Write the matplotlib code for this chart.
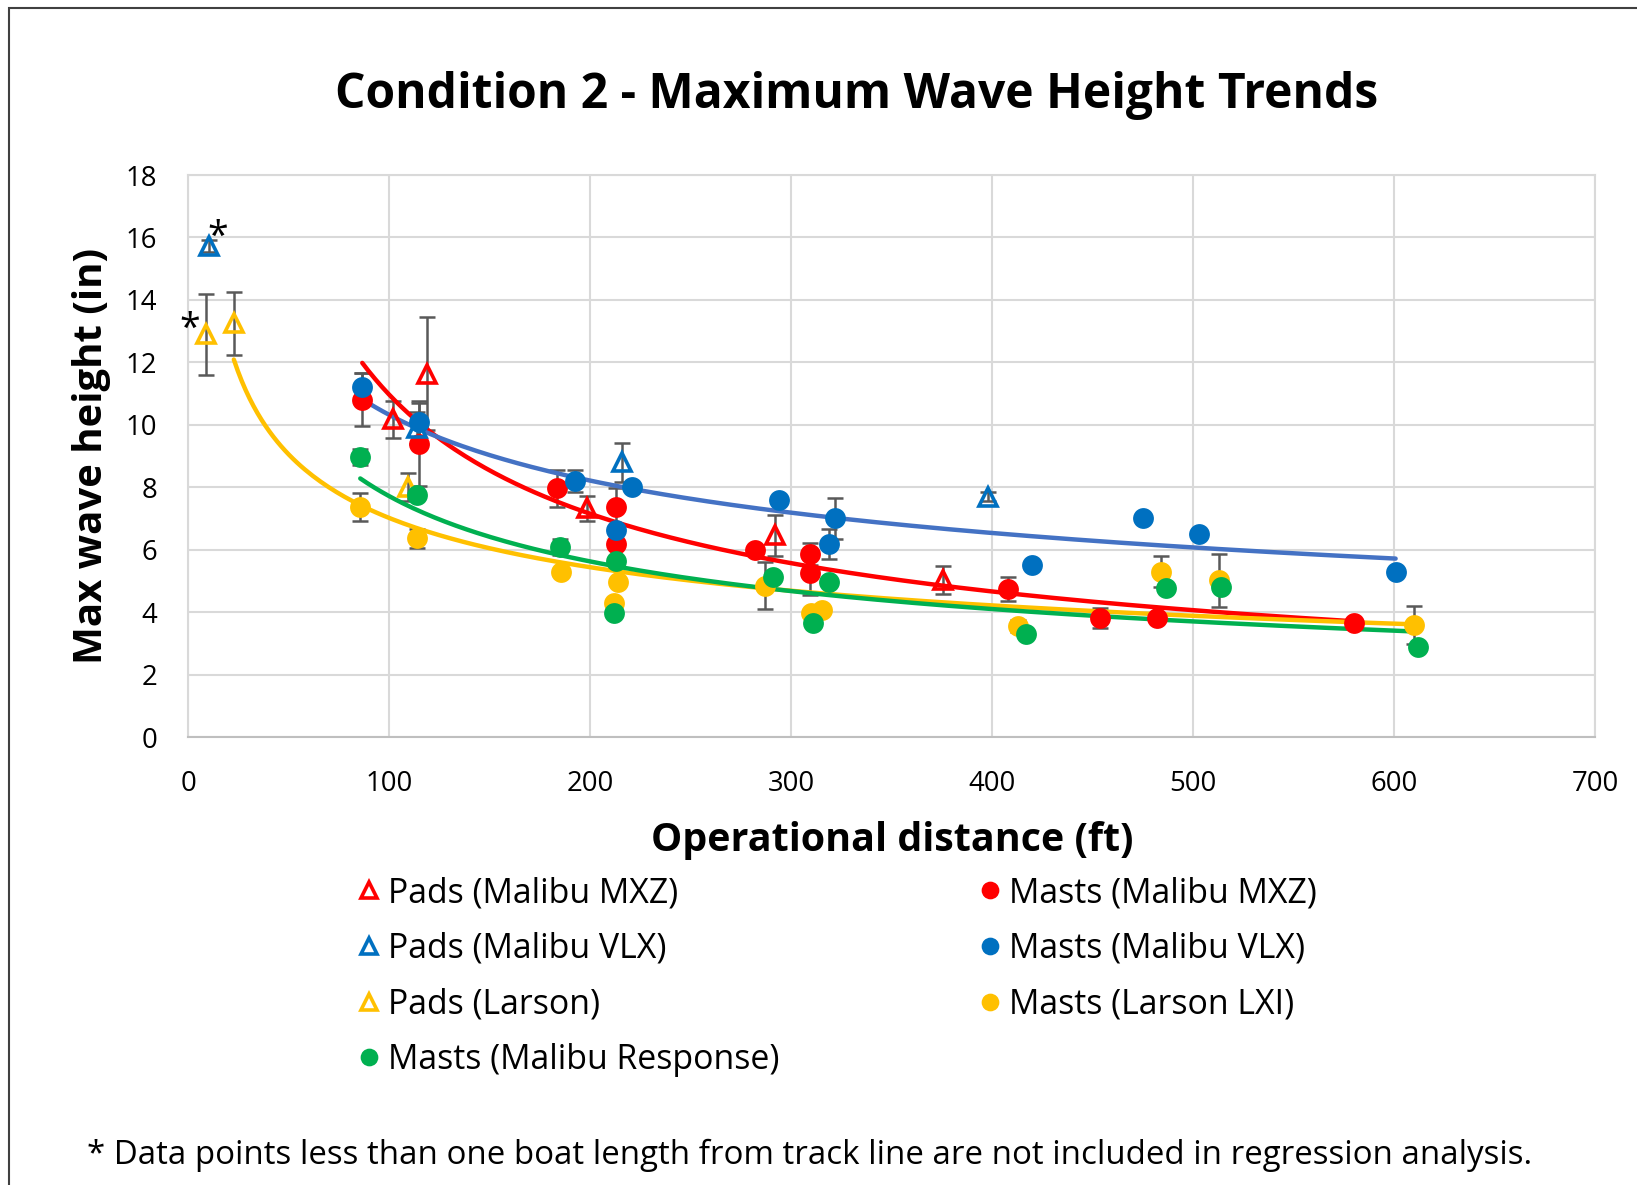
import numpy as np
import matplotlib
matplotlib.use("Agg")
import matplotlib.pyplot as plt
from matplotlib.lines import Line2D
from matplotlib.patches import Rectangle

plt.rcParams['font.family'] = ['Open Sans', 'DejaVu Sans']

# ---------------- data ----------------
pads_mxz_x = [101.8, 118.9, 198.4, 291.8, 375.4]
pads_mxz_y = [10.17, 11.64, 7.33, 6.46, 5.02]
pads_mxz_e = [0.6, 1.8, 0.4, 0.65, 0.45]

masts_mxz_x = [86.7, 114.8, 183.8, 212.9, 212.9, 282.0, 309.5, 309.5, 408.0, 453.8, 481.9, 580.0]
masts_mxz_y = [10.8, 9.4, 7.96, 7.36, 6.19, 5.99, 5.85, 5.25, 4.75, 3.81, 3.81, 3.65]
masts_mxz_e = [0.85, 1.35, 0.6, 0.6, 0.0, 0.0, 0.35, 0.7, 0.38, 0.33, 0.0, 0.0]

pads_vlx_x = [10.4, 114.0, 216.0, 397.8]
pads_vlx_y = [15.72, 9.9, 8.8, 7.7]
pads_vlx_e = [0.2, 0.5, 0.62, 0.15]
pads_vlx_excluded = [True, False, False, False]

masts_vlx_x = [86.7, 114.8, 192.6, 212.9, 220.7, 293.9, 322.0, 318.8, 420.0, 475.0, 503.0, 600.8]
masts_vlx_y = [11.2, 10.1, 8.2, 6.62, 8.0, 7.6, 7.0, 6.19, 5.52, 7.03, 6.49, 5.29]
masts_vlx_e = [0.45, 0.6, 0.35, 0.0, 0.0, 0.0, 0.65, 0.48, 0.0, 0.0, 0.0, 0.0]

pads_larson_x = [8.8, 22.8, 109.6]
pads_larson_y = [12.9, 13.25, 8.0]
pads_larson_e = [1.3, 1.0, 0.45]
pads_larson_excluded = [True, False, False]

masts_larson_x = [85.7, 113.7, 185.4, 213.9, 211.9, 287.0, 310.0, 315.2, 413.0, 484.0, 513.0, 610.0]
masts_larson_y = [7.36, 6.36, 5.29, 4.98, 4.28, 4.85, 3.97, 4.08, 3.55, 5.29, 5.02, 3.58]
masts_larson_e = [0.45, 0.3, 0.0, 0.0, 0.0, 0.75, 0.0, 0.0, 0.2, 0.5, 0.85, 0.6]

masts_resp_x = [85.7, 113.7, 184.9, 212.9, 211.9, 290.8, 318.8, 311.0, 417.0, 486.6, 514.0, 612.0]
masts_resp_y = [8.97, 7.76, 6.09, 5.65, 3.98, 5.12, 4.95, 3.65, 3.31, 4.78, 4.82, 2.88]
masts_resp_e = [0.25, 0.0, 0.25, 0.0, 0.0, 0.0, 0.0, 0.0, 0.0, 0.0, 0.0, 0.0]

x_ticks = [0, 100, 200, 300, 400, 500, 600, 700]
y_ticks = [0, 2, 4, 6, 8, 10, 12, 14, 16, 18]

RED = '#FF0000'
BLUE = '#0070C0'
YEL = '#FFC000'
GRN = '#00B050'
TREND_BLUE = '#4472C4'
ERR = '#595959'

W, H = 1637, 1185
fig = plt.figure(figsize=(W/100, H/100), dpi=100)
ax = fig.add_axes([188/W, 1-737/H, (1595-188)/W, (737-175)/H])

# gridlines
ax.set_axisbelow(True)
ax.grid(True, color='#D9D9D9', linewidth=1.5)
for s in ['top', 'right', 'left']:
    ax.spines[s].set_color('#D9D9D9')
    ax.spines[s].set_linewidth(1.5)
ax.spines['bottom'].set_color('#BFBFBF')
ax.spines['bottom'].set_linewidth(1.5)

def errs(x, y, e):
    x = np.array(x); y = np.array(y); e = np.array(e)
    m = e > 0
    ax.errorbar(x[m], y[m], yerr=e[m], fmt='none', ecolor=ERR, elinewidth=1.8,
                capsize=6, capthick=1.8, zorder=2)

# trendlines (power fits, excluding starred points)
def power_fit(xs, ys, color):
    xs = np.array(xs); ys = np.array(ys)
    b, a = np.polyfit(np.log(xs), np.log(ys), 1)
    xx = np.linspace(xs.min(), xs.max(), 300)
    ax.plot(xx, np.exp(a) * xx ** b, color=color, linewidth=3.2, zorder=3,
            solid_capstyle='round')

def keep(xs, ys, excl):
    return ([x for x, e in zip(xs, excl) if not e], [y for y, e in zip(ys, excl) if not e])

mxz_x = pads_mxz_x + masts_mxz_x
mxz_y = pads_mxz_y + masts_mxz_y
pvx, pvy = keep(pads_vlx_x, pads_vlx_y, pads_vlx_excluded)
plx, ply = keep(pads_larson_x, pads_larson_y, pads_larson_excluded)

# error bars
errs(pads_mxz_x, pads_mxz_y, pads_mxz_e)
errs(masts_mxz_x, masts_mxz_y, masts_mxz_e)
errs(pads_vlx_x, pads_vlx_y, pads_vlx_e)
errs(masts_vlx_x, masts_vlx_y, masts_vlx_e)
errs(pads_larson_x, pads_larson_y, pads_larson_e)
errs(masts_larson_x, masts_larson_y, masts_larson_e)
errs(masts_resp_x, masts_resp_y, masts_resp_e)

ms_c = 15
ms_t = 13
ax.plot(pads_mxz_x, pads_mxz_y, '^', ms=ms_t, mfc='none', mec=RED, mew=2.6, ls='none', zorder=4)
ax.plot(masts_mxz_x, masts_mxz_y, 'o', ms=ms_c, color=RED, mec='none', ls='none', zorder=4)
ax.plot(pads_vlx_x, pads_vlx_y, '^', ms=ms_t, mfc='none', mec=BLUE, mew=2.6, ls='none', zorder=4)
ax.plot(masts_vlx_x, masts_vlx_y, 'o', ms=ms_c, color=BLUE, mec='none', ls='none', zorder=4)
ax.plot(pads_larson_x, pads_larson_y, '^', ms=ms_t, mfc='none', mec=YEL, mew=2.6, ls='none', zorder=4)
ax.plot(masts_larson_x, masts_larson_y, 'o', ms=ms_c, color=YEL, mec='none', ls='none', zorder=4)
ax.plot(masts_resp_x, masts_resp_y, 'o', ms=ms_c, color=GRN, mec='none', ls='none', zorder=4)

power_fit(mxz_x, mxz_y, RED)
power_fit(pvx + masts_vlx_x, pvy + masts_vlx_y, TREND_BLUE)
power_fit(plx + masts_larson_x, ply + masts_larson_y, YEL)
power_fit(masts_resp_x, masts_resp_y, GRN)

# asterisks
ax.text(15, 16.0, '*', fontsize=27, ha='center', va='center', zorder=5)
ax.text(1.0, 13.05, '*', fontsize=27, ha='center', va='center', zorder=5)

ax.set_xlim(0, 700)
ax.set_ylim(0, 18)
ax.set_xticks(x_ticks)
ax.set_yticks(y_ticks)
ax.tick_params(length=0, labelsize=19.8)
ax.tick_params(axis='y', pad=22)
ax.tick_params(axis='x', pad=24)

fig.text(892/W, 1-841/H, 'Operational distance (ft)', fontsize=28.4, fontweight='bold',
         ha='center', va='center')
fig.text(92/W, 1-456/H, 'Max wave height (in)', fontsize=28.9, fontweight='bold',
         ha='center', va='center', rotation=90)

fig.text(857/W, 1-95/H, 'Condition 2 - Maximum Wave Height Trends',
         fontsize=34.6, fontweight='bold', ha='center', va='center')

leg_kw = dict(frameon=False, fontsize=24.4, handletextpad=0.1, labelspacing=0.64,
              handlelength=0.9, borderpad=0, borderaxespad=0, markerscale=0.85)
def lh(marker, color, filled):
    if filled:
        return Line2D([], [], marker=marker, ls='none', ms=ms_c, color=color, mec='none')
    return Line2D([], [], marker=marker, ls='none', ms=ms_t, mfc='none', mec=color, mew=2.6)

l1 = fig.legend([lh('^', RED, False), lh('^', BLUE, False), lh('^', YEL, False), lh('o', GRN, True)],
                ['Pads (Malibu MXZ)', 'Pads (Malibu VLX)', 'Pads (Larson)', 'Masts (Malibu Response)'],
                loc='upper left', bbox_to_anchor=(354/W, 1-876/H), **leg_kw)
l2 = fig.legend([lh('o', RED, True), lh('o', BLUE, True), lh('o', YEL, True)],
                ['Masts (Malibu MXZ)', 'Masts (Malibu VLX)', 'Masts (Larson LXI)'],
                loc='upper left', bbox_to_anchor=(975/W, 1-876/H), **leg_kw)

fig.text(87/W, 1-1155/H,
         '* Data points less than one boat length from track line are not included in regression analysis.',
         fontsize=23.8, ha='left', va='center')

fig.patches.append(Rectangle((9/W, -0.05), 1.2, 1 - 8/H + 0.05, transform=fig.transFigure,
                             fill=False, edgecolor='#404040', linewidth=1.5, zorder=0))

fig.savefig('out.png', dpi=100, facecolor='white')
